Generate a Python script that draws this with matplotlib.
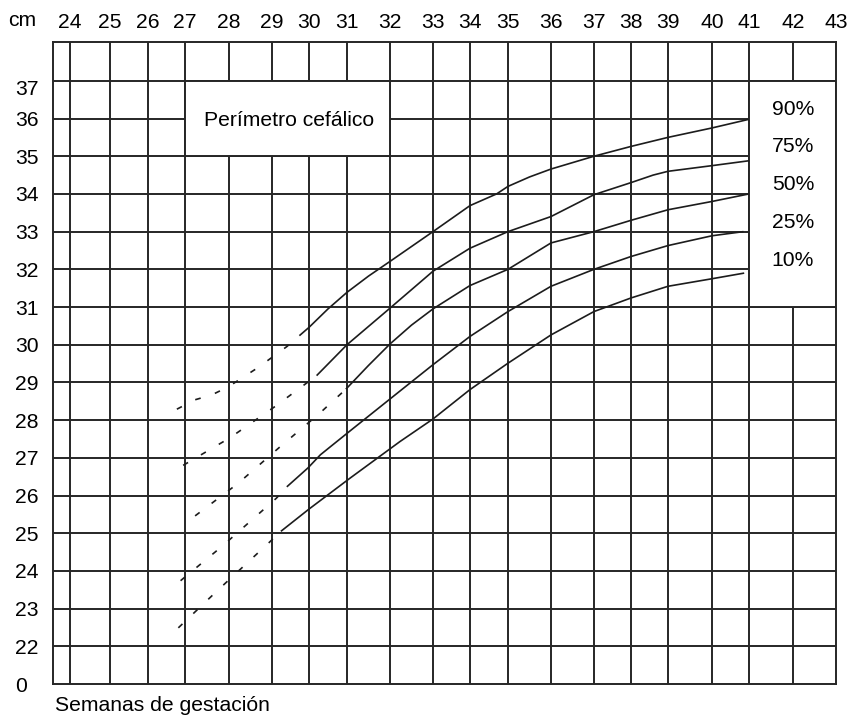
import numpy as np
import matplotlib
matplotlib.use("Agg")
import matplotlib.pyplot as plt
from matplotlib.patches import Rectangle
import matplotlib.transforms as mtransforms

# ---------------- data ----------------
week_ticks = list(range(24, 44))
cm_ticks = [21] + list(range(22, 38))
cm_tick_labels = ["0"] + [str(v) for v in range(22, 38)]
percent_labels = ["90%", "75%", "50%", "25%", "10%"]
percent_label_y = [36.25, 35.25, 34.24, 33.23, 32.23]
title_text = "Perímetro cefálico"
xlabel_text = "Semanas de gestación"

# dashed (extrapolated) parts
p90_dash_x = [26.78, 27.23, 27.61, 27.98, 28.67, 29.40, 29.74]
p90_dash_y = [28.29, 28.54, 28.67, 28.88, 29.39, 29.95, 30.24]
p75_dash_x = [26.95, 28.02, 29.08, 30.20]
p75_dash_y = [26.80, 27.53, 28.36, 29.18]
p50_dash_x = [27.23, 28.22, 29.18, 30.29, 30.97]
p50_dash_y = [25.46, 26.33, 27.26, 28.19, 28.82]
p25_dash_x = [26.88, 27.85, 29.12, 29.40]
p25_dash_y = [23.74, 24.66, 25.93, 26.23]
p10_dash_x = [26.82, 27.72, 28.94, 29.24]
p10_dash_y = [22.49, 23.46, 24.76, 25.05]

# solid parts
p90_x = [29.74, 30.0, 30.5, 31.0, 31.5, 32.0, 33.0, 34.0, 34.7, 35.0, 35.5, 36.0, 37.0, 38.0, 39.0, 40.0, 41.0]
p90_y = [30.24, 30.46, 30.95, 31.39, 31.82, 32.21, 33.0, 33.69, 34.0, 34.2, 34.45, 34.66, 35.0, 35.26, 35.5, 35.75, 35.98]
p75_x = [30.2, 31.0, 32.0, 33.0, 34.0, 35.0, 36.0, 37.0, 38.0, 38.6, 39.0, 40.0, 41.0]
p75_y = [29.18, 30.0, 30.97, 31.95, 32.56, 33.0, 33.4, 33.98, 34.3, 34.5, 34.6, 34.75, 34.88]
p50_x = [30.97, 31.5, 32.0, 32.5, 33.0, 34.0, 35.0, 36.0, 37.0, 38.0, 39.0, 40.0, 41.0]
p50_y = [28.82, 29.45, 30.02, 30.52, 30.95, 31.57, 32.0, 32.7, 33.0, 33.3, 33.58, 33.8, 34.0]
p25_x = [29.4, 29.97, 30.3, 30.57, 31.1, 32.23, 33.0, 34.0, 35.0, 36.0, 37.0, 38.0, 39.0, 40.0, 40.85]
p25_y = [26.23, 26.73, 27.08, 27.3, 27.74, 28.77, 29.47, 30.22, 30.88, 31.55, 32.0, 32.34, 32.63, 32.89, 33.0]
p10_x = [29.24, 30.0, 31.07, 32.23, 33.0, 34.0, 35.0, 36.0, 37.0, 38.0, 39.0, 40.0, 40.87]
p10_y = [25.05, 25.64, 26.46, 27.43, 28.03, 28.81, 29.51, 30.26, 30.88, 31.24, 31.55, 31.75, 31.9]

# ---------------- layout / style ----------------
W, H, DPI = 851, 718, 100
AX_L, AX_R, AX_T, AX_B = 53, 836, 42, 684
# printed chart has slightly irregular week spacing (pixel position of each week line)
week_px = [30, 70, 110, 148, 185, 229, 272, 309, 347, 390, 433, 470, 508, 551,
           594, 631, 668, 712, 749, 793, 836]
week_anchor = list(range(23, 44))

plt.rcParams["font.family"] = ["Liberation Sans", "DejaVu Sans"]
GRID_C = "#262626"
LINE_C = "#1c1c1c"
GRID_LW = 1.4
CURVE_LW = 1.2
FS = 15.2

fig = plt.figure(figsize=(W / DPI, H / DPI), dpi=DPI)
ax = fig.add_axes([AX_L / W, (H - AX_B) / H, (AX_R - AX_L) / W, (AX_B - AX_T) / H])

fwd = lambda x: np.interp(x, week_anchor, week_px)
inv = lambda p: np.interp(p, week_px, week_anchor)
ax.set_xscale("function", functions=(fwd, inv))
ax.set_xlim(23.575, 43)
ax.set_ylim(21, 38.03)

# grid
for w in week_ticks[:-1]:
    ax.axvline(w, color=GRID_C, lw=GRID_LW, zorder=1)
for c in range(22, 38):
    ax.axhline(c, color=GRID_C, lw=GRID_LW, zorder=1)

# white boxes
ax.add_patch(Rectangle((27, 35), 5, 2, facecolor="white", edgecolor=GRID_C,
                       lw=GRID_LW, zorder=2))
ax.add_patch(Rectangle((41, 31), 2, 6, facecolor="white", edgecolor=GRID_C,
                       lw=GRID_LW, zorder=2))

# curves
dash = (3.4, 9.0)
for dx, dy in [(p90_dash_x, p90_dash_y), (p75_dash_x, p75_dash_y),
               (p50_dash_x, p50_dash_y), (p25_dash_x, p25_dash_y),
               (p10_dash_x, p10_dash_y)]:
    ax.plot(dx, dy, color=LINE_C, lw=CURVE_LW, linestyle=(0, dash), zorder=3)
for sx, sy in [(p90_x, p90_y), (p75_x, p75_y), (p50_x, p50_y),
               (p25_x, p25_y), (p10_x, p10_y)]:
    ax.plot(sx, sy, color=LINE_C, lw=CURVE_LW, zorder=3, solid_capstyle="butt",
            solid_joinstyle="round")

# texts
ax.text(29.46, 35.95, title_text, ha="center", va="center", fontsize=FS, zorder=4)
for lab, yy in zip(percent_labels, percent_label_y):
    ax.text(42, yy, lab, ha="center", va="center", fontsize=FS, zorder=4)

# ticks
ax.xaxis.tick_top()
ax.set_xticks(week_ticks)
ax.set_xticklabels([str(w) for w in week_ticks])
ax.set_yticks(cm_ticks)
ax.set_yticklabels(cm_tick_labels)
ax.tick_params(axis="x", length=0, pad=7, labelsize=FS)
ax.tick_params(axis="y", length=0, pad=27.4, labelsize=FS)
for lab in ax.get_yticklabels():
    lab.set_horizontalalignment("left")
for tick in ax.yaxis.get_major_ticks():
    if abs(tick.get_loc() - 37) < 1e-6:
        tick.label1.set_transform(tick.label1.get_transform() +
                                  mtransforms.ScaledTranslation(0, -7 / DPI, fig.dpi_scale_trans))
ax.xaxis.set_minor_locator(matplotlib.ticker.NullLocator())
ax.yaxis.set_minor_locator(matplotlib.ticker.NullLocator())

for sp in ax.spines.values():
    sp.set_color(GRID_C)
    sp.set_linewidth(GRID_LW)

fig.text(22 / W, 1 - 21 / H, "cm", ha="center", va="center", fontsize=FS)
fig.text(55 / W, 7 / H, xlabel_text, ha="left", va="baseline", fontsize=FS)

fig.savefig("out.png", dpi=DPI, facecolor="white")
